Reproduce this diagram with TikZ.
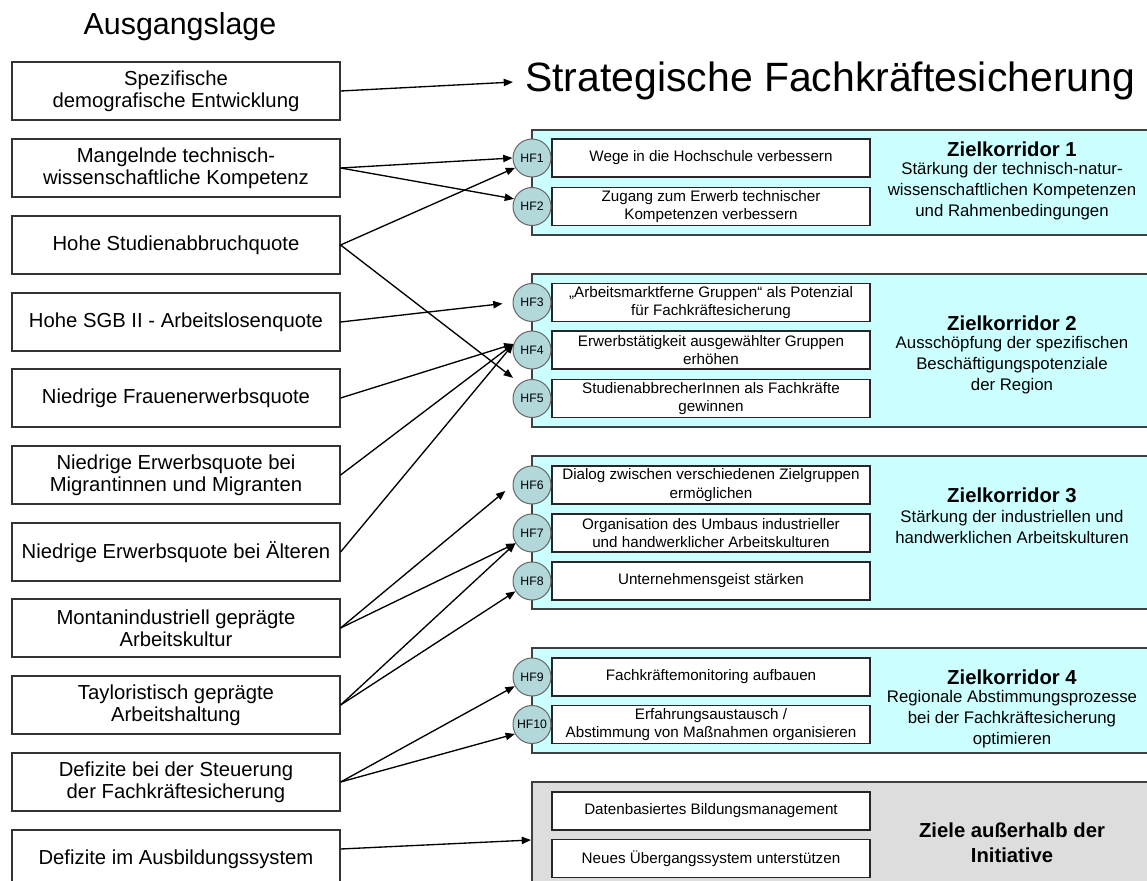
\documentclass[tikz,border=0pt]{standalone}
\usepackage{fontspec}
\setmainfont{Liberation Sans}
\usetikzlibrary{arrows.meta,calc}
\definecolor{cyanbg}{RGB}{204,255,255}
\definecolor{graybg}{RGB}{221,221,221}
\definecolor{hfblue}{RGB}{178,216,218}
\begin{document}
\begin{tikzpicture}[x=0.75pt,y=-0.75pt,
  leftbox/.style={draw=black!80, line width=0.9pt, minimum width=246pt, minimum height=43.5pt, inner sep=0pt, align=center, font=\fontsize{15.2}{16.5}\selectfont},
  corr/.style={draw=black!75, line width=1.5pt, fill=cyanbg, minimum width=471pt, inner sep=0pt},
  hfbox/.style={draw=black!85, line width=0.9pt, fill=white, minimum width=238.5pt, minimum height=28.5pt, inner sep=0pt, align=center, font=\fontsize{11.4}{13.7}\selectfont},
  hfc/.style={circle, draw=black!60, line width=0.75pt, fill=hfblue, minimum size=28.5pt, inner sep=0pt, font=\fontsize{9.2}{10}\selectfont},
  arr/.style={-{Triangle[length=7pt,width=5.5pt]}, line width=1pt},
  zhead/.style={font=\bfseries\fontsize{15.2}{18.75}\selectfont, align=center},
  zsub/.style={font=\fontsize{12.6}{15.75}\selectfont, align=center}]
\clip (0,0) rectangle (1147,881);
\fill[white] (0,0) rectangle (1147,881);

% titles
\node[anchor=base, font=\fontsize{22.8}{26}\selectfont] (ausg) at (180,35) {Ausgangslage};
\node[anchor=base west, inner sep=0pt, font=\fontsize{30.7}{34}\selectfont] (title) at (525,92) {Strategische Fachkräftesicherung};

% left column
\node[leftbox] (b1) at (176,91) {Spezifische\\demografische Entwicklung};
\node[leftbox] (b2) at (176,168) {Mangelnde technisch-\\wissenschaftliche Kompetenz};
\node[leftbox] (b3) at (176,245) {Hohe Studienabbruchquote};
\node[leftbox] (b4) at (176,322) {Hohe SGB II - Arbeitslosenquote};
\node[leftbox] (b5) at (176,398) {Niedrige Frauenerwerbsquote};
\node[leftbox] (b6) at (176,475) {Niedrige Erwerbsquote bei\\Migrantinnen und Migranten};
\node[leftbox] (b7) at (176,552) {Niedrige Erwerbsquote bei Älteren};
\node[leftbox] (b8) at (176,628) {Montanindustriell geprägte\\Arbeitskultur};
\node[leftbox] (b9) at (176,705) {Tayloristisch geprägte\\Arbeitshaltung};
\node[leftbox] (b10) at (176,782) {Defizite bei der Steuerung\\der Fachkräftesicherung};
\node[leftbox] (b11) at (176,859) {Defizite im Ausbildungssystem};

% corridors
\node[corr, minimum height=78.75pt] (zk1) at (846,182.5) {};
\node[corr, minimum height=114.75pt] (zk2) at (846,350.5) {};
\node[corr, minimum height=114.75pt] (zk3) at (846,532.5) {};
\node[corr, minimum height=78.75pt] (zk4) at (846,700.5) {};
\node[corr, fill=graybg, minimum height=87pt] (zg) at (846,840) {};

% corridor labels
\node[zhead] (zh1) at (1012,149) {Zielkorridor 1};
\node[zsub] (zs1) at (1012,191.5) {Stärkung der technisch-natur-\\wissenschaftlichen Kompetenzen\\und Rahmenbedingungen};
\node[zhead] (zh2) at (1012,323) {Zielkorridor 2};
\node[zsub] (zs2) at (1012,365.5) {Ausschöpfung der spezifischen\\Beschäftigungspotenziale\\der Region};
\node[zhead] (zh3) at (1012,495) {Zielkorridor 3};
\node[zsub] (zs3) at (1012,527) {Stärkung der industriellen und\\handwerklichen Arbeitskulturen};
\node[zhead] (zh4) at (1012,677) {Zielkorridor 4};
\node[zsub] (zs4) at (1012,719.5) {Regionale Abstimmungsprozesse\\bei der Fachkräftesicherung\\optimieren};
\node[zhead] (zhg) at (1012,842.5) {Ziele außerhalb der\\Initiative};

% inner boxes
\node[hfbox] (t1) at (711,158) {Wege in die Hochschule verbessern};
\node[hfbox] (t2) at (711,206.5) {Zugang zum Erwerb technischer\\Kompetenzen verbessern};
\node[hfbox] (t3) at (711,302.5) {„Arbeitsmarktferne Gruppen“ als Potenzial\\für Fachkräftesicherung};
\node[hfbox] (t4) at (711,350) {Erwerbstätigkeit ausgewählter Gruppen\\erhöhen};
\node[hfbox] (t5) at (711,398.5) {StudienabbrecherInnen als Fachkräfte\\gewinnen};
\node[hfbox] (t6) at (711,485) {Dialog zwischen verschiedenen Zielgruppen\\ermöglichen};
\node[hfbox] (t7) at (711,533) {Organisation des Umbaus industrieller\\und handwerklicher Arbeitskulturen};
\node[hfbox] (t8) at (711,581) {Unternehmensgeist stärken};
\node[hfbox] (t9) at (711,677) {Fachkräftemonitoring aufbauen};
\node[hfbox] (t10) at (711,724.5) {Erfahrungsaustausch /\\Abstimmung von Maßnahmen organisieren};
\node[hfbox] (g1) at (711,811) {Datenbasiertes Bildungsmanagement};
\node[hfbox] (g2) at (711,858.5) {Neues Übergangssystem unterstützen};

% circles
\node[hfc] (hf1) at (532,158) {HF1};
\node[hfc] (hf2) at (532,206.5) {HF2};
\node[hfc] (hf3) at (532,302.5) {HF3};
\node[hfc] (hf4) at (532,350) {HF4};
\node[hfc] (hf5) at (532,398.5) {HF5};
\node[hfc] (hf6) at (532,485) {HF6};
\node[hfc] (hf7) at (532,533) {HF7};
\node[hfc] (hf8) at (532,581) {HF8};
\node[hfc] (hf9) at (532,677) {HF9};
\node[hfc] (hf10) at (532,724.5) {HF10};

% connectors
\draw[arr, shorten >=9pt] (b1.east) -- (title.west);
\draw[arr] (b2.east) -- (hf1.west);
\draw[arr] (b2.east) -- (hf2.157);
\draw[arr] (b3.east) -- (hf1.210);
\draw[arr, shorten >=18pt] (b3.east) -- ([yshift=4.5pt]hf5.center);
\draw[arr, shorten >=7.5pt] (b4.east) -- (hf3.west);
\draw[arr] (b5.east) -- (hf4.162);
\draw[arr] (b6.east) -- (hf4.162);
\draw[arr] (b7.east) -- (hf4.162);
\draw[arr, shorten >=7pt] (b8.east) -- (hf6.west);
\draw[arr] (b8.east) -- (hf7.212);
\draw[arr] (b9.east) -- (hf7.212);
\draw[arr] (b9.east) -- (hf8.212);
\draw[arr] (b10.east) -- (hf9.208);
\draw[arr] (b10.east) -- (hf10.209);
\draw[arr] ([yshift=7.5pt]b11.east) -- (zg.west);
\end{tikzpicture}
\end{document}
